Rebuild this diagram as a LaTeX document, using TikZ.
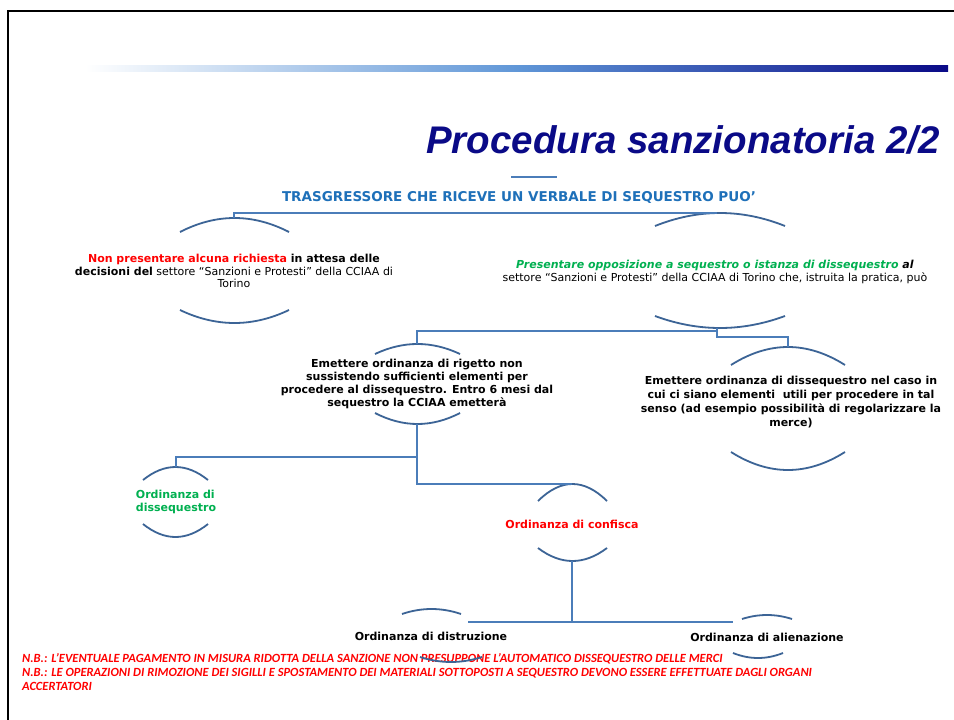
\documentclass[tikz,border=0pt]{standalone}
\usepackage{fontspec}
\setmainfont{DejaVu Sans}
\newfontfamily\titlefont{Liberation Sans}
\newfontfamily\nbfont{Carlito}
\definecolor{navy}{RGB}{10,10,135}
\definecolor{hdrblue}{RGB}{30,112,185}
\definecolor{connblue}{RGB}{75,125,185}
\definecolor{arcblue}{RGB}{60,100,150}
\definecolor{grn}{RGB}{0,176,80}
\definecolor{rd}{RGB}{255,0,0}
\definecolor{midblue}{RGB}{95,150,215}
\newcommand\archump[4]{\draw[arcline] (#1,#3) .. controls ({#1+(#2-#1)/3},{(4*#4-#3)/3}) and ({#2-(#2-#1)/3},{(4*#4-#3)/3}) .. (#2,#3);}
\begin{document}
\begin{tikzpicture}[x=1pt,y=-1pt,
  conn/.style={draw=connblue,line width=1.8pt},
  arcline/.style={draw=arcblue,line width=1.8pt},
  txt/.style={align=center,inner sep=0pt,font=\fontsize{11}{12.5}\selectfont}]
\useasboundingbox (0,0) rectangle (954,720);
\fill[white] (0,0) rectangle (954,720);
% frame
\draw[black,line width=2.5pt] (8,720) -- (8,11) -- (954,11);
% gradient bar
\shade[left color=white,right color=midblue] (85,65) rectangle (520,71);
\shade[left color=midblue,right color=navy] (520,65) rectangle (948,71);
% title
\node[anchor=base east,inner sep=0pt,text=navy,font=\titlefont\fontsize{38.5}{44}\selectfont\bfseries\itshape] (title) at (940,153) {Procedura sanzionatoria 2/2};
% small dash
\draw[connblue,line width=2pt] (511,177) -- (557,177);
% header
\node[inner sep=0pt,text=hdrblue,font=\fontsize{13.5}{15}\selectfont\bfseries] (hdr) at (519,197) {TRASGRESSORE CHE RICEVE UN VERBALE DI SEQUESTRO PUO’};

% left node
\node[txt] (nL) at (234,271) {\textbf{\textcolor{rd}{Non presentare alcuna richiesta} in attesa delle}\\\textbf{decisioni del} settore “Sanzioni e Protesti” della CCIAA di\\Torino};
\coordinate (nL-t) at (234,218);
\coordinate (nL-b) at (234,323);
\archump{180}{289}{232}{218}
\archump{180}{289}{310}{323}

% right node
\node[txt,font=\fontsize{11}{13}\selectfont] (nR) at (715,272) {\textbf{\itshape\textcolor{grn}{Presentare opposizione a sequestro o istanza di dissequestro} al}\\settore “Sanzioni e Protesti” della CCIAA di Torino che, istruita la pratica, può};
\coordinate (nR-t) at (717,213);
\coordinate (nR-b) at (717,328);
\archump{655}{785}{226}{213}
\archump{655}{785}{316}{328}

% middle node
\node[txt,font=\fontsize{11}{13.3}\selectfont\bfseries] (nM) at (417,384) {Emettere ordinanza di rigetto non\\sussistendo sufficienti elementi per\\procedere al dissequestro. Entro 6 mesi dal\\sequestro la CCIAA emetterà};
\coordinate (nM-t) at (417,344);
\coordinate (nM-b) at (417,424);
\archump{375}{460}{354}{344}
\archump{375}{460}{413}{424}

% right-bottom node
\node[txt,font=\fontsize{11}{14}\selectfont\bfseries] (nR2) at (791,402) {Emettere ordinanza di dissequestro nel caso in\\cui ci siano elementi\ \ utili per procedere in tal\\senso (ad esempio possibilità di regolarizzare la\\merce)};
\coordinate (nR2-t) at (788,347);
\coordinate (nR2-b) at (788,470);
\archump{731}{845}{365}{347}
\archump{731}{845}{452}{470}

% Ordinanza di dissequestro
\node[txt,align=left,text=grn,font=\fontsize{11}{13}\selectfont\bfseries] (nD) at (176,502) {Ordinanza di\\dissequestro};
\coordinate (nD-t) at (176,467);
\coordinate (nD-b) at (176,537);
\archump{143}{208}{480}{467}
\archump{143}{208}{524}{537}

% Ordinanza di confisca
\node[txt,text=rd,font=\fontsize{11}{13}\selectfont\bfseries] (nC) at (572,524) {Ordinanza di confisca};
\coordinate (nC-t) at (572,484);
\coordinate (nC-b) at (572,561);
\archump{538}{607}{501}{484}
\archump{538}{607}{548}{561}

% Ordinanza di distruzione
\node[txt,font=\fontsize{11}{13}\selectfont\bfseries] (nDi) at (431,636) {Ordinanza di distruzione};
\archump{402}{461}{614}{609}

% Ordinanza di alienazione
\node[txt,font=\fontsize{11}{13}\selectfont\bfseries] (nA) at (767,637) {Ordinanza di alienazione};
\archump{742}{792}{619}{615}

% connectors
\coordinate (bus1) at (717,331);
\coordinate (j1) at (417,457);
\coordinate (j2) at (572,622);
\coordinate (h1) at (468,622);
\coordinate (h2) at (733,622);
\draw[conn] (nL-t) |- (nR-t);
\draw[conn] (nR-b) -- (bus1);
\draw[conn] (nM-t) |- (bus1);
\draw[conn] (bus1) -- ++(0,6) -| (nR2-t);
\draw[conn] (nM-b) |- (nC-t);
\draw[conn] (nD-t) |- (j1);
\draw[conn] (nC-b) -- (j2);
\draw[conn] (h1) -- (h2);

% notes
\node[anchor=north west,inner sep=0pt,align=left,text=rd,font=\nbfont\fontsize{12.5}{14}\selectfont\bfseries\itshape] (nb) at (22,653) {N.B.: L’EVENTUALE PAGAMENTO IN MISURA RIDOTTA DELLA SANZIONE NON PRESUPPONE L’AUTOMATICO DISSEQUESTRO DELLE MERCI\\N.B.: LE OPERAZIONI DI RIMOZIONE DEI SIGILLI E SPOSTAMENTO DEI MATERIALI SOTTOPOSTI A SEQUESTRO DEVONO ESSERE EFFETTUATE DAGLI ORGANI\\ACCERTATORI};
% lower arcs of the two last nodes (drawn over the notes, as in the reference)
\archump{420}{482}{657}{662}
\archump{733}{783}{653}{658}
\end{tikzpicture}
\end{document}
